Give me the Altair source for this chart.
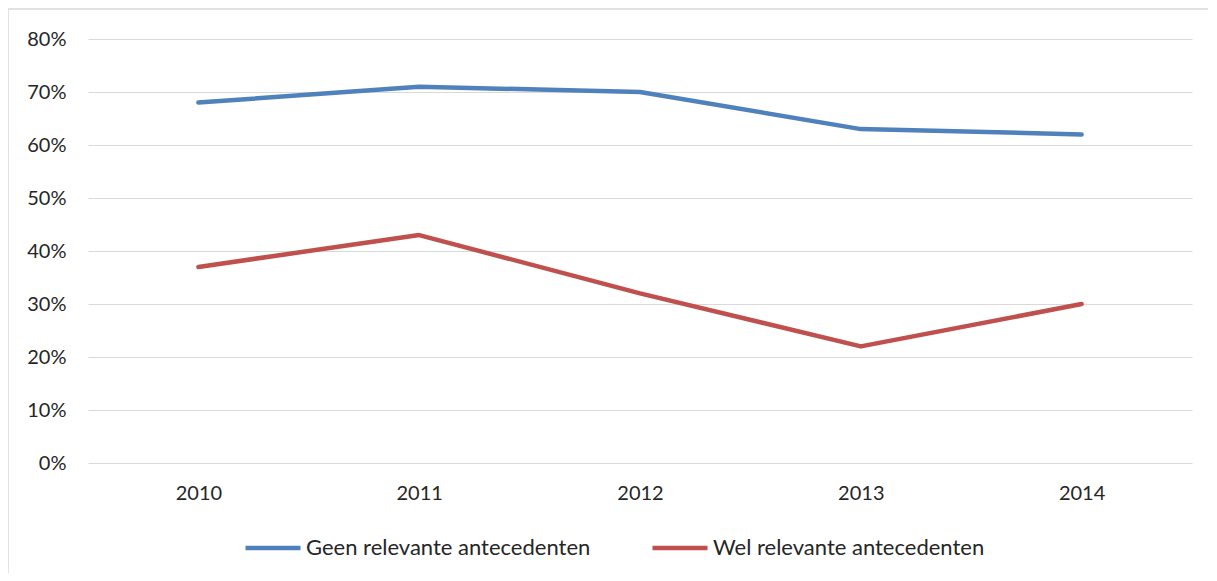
import altair as alt
import pandas as pd

years = ["2010", "2011", "2012", "2013", "2014"]
geen = [0.68, 0.71, 0.70, 0.63, 0.62]
wel = [0.37, 0.43, 0.32, 0.22, 0.30]
series = ["Geen relevante antecedenten", "Wel relevante antecedenten"]
colors = ["#4F81BD", "#C0504D"]
y_ticks = [0, 0.1, 0.2, 0.3, 0.4, 0.5, 0.6, 0.7, 0.8]

rows = []
for yr, g, w in zip(years, geen, wel):
    rows.append({"year": yr, "value": g, "series": series[0]})
    rows.append({"year": yr, "value": w, "series": series[1]})
df = pd.DataFrame(rows)

W, H = 1104, 424
FONT = "Lato"
TXT = "#262626"

frame = alt.Chart(pd.DataFrame({"a": [0]})).mark_rect(
    fill=None, stroke="#D9D9D9", strokeWidth=1.5, clip=False
).encode(
    x=alt.value(-80), x2=alt.value(1200), y=alt.value(-30), y2=alt.value(600)
)

lines = alt.Chart(df).mark_line(strokeWidth=4.5, strokeCap="round", strokeJoin="round").encode(
    x=alt.X("year:O", sort=years, scale=alt.Scale(type="point", padding=0.5),
            axis=alt.Axis(title=None, labelAngle=0, domain=False, ticks=False,
                          labelPadding=20, labelFontSize=20, labelFont=FONT, labelColor=TXT)),
    y=alt.Y("value:Q", scale=alt.Scale(domain=[0, 0.8], nice=False),
            axis=alt.Axis(title=None, values=y_ticks, format=".0%", domain=False, ticks=False,
                          labelPadding=22, labelFontSize=20, labelFont=FONT, labelColor=TXT,
                          grid=True, gridColor="#D9D9D9", gridWidth=1)),
    color=alt.Color("series:N", sort=series,
                    scale=alt.Scale(domain=series, range=colors),
                    legend=alt.Legend(title=None, orient="none", direction="horizontal",
                                      legendX=155, legendY=479,
                                      symbolType="stroke", symbolSize=3025, symbolStrokeWidth=4.5,
                                      labelFont=FONT, labelFontSize=22, labelColor=TXT,
                                      labelLimit=0, labelOffset=3, columnPadding=52)),
)

chart = alt.layer(frame, lines).properties(
    width=W, height=H,
    autosize=alt.AutoSizeParams(type="none"),
    padding={"left": 80, "top": 31, "right": 16, "bottom": 110},
).configure(background="white").configure_view(stroke=None, strokeWidth=0)

chart.save("out.html", embed_options={"renderer": "svg", "actions": False})
